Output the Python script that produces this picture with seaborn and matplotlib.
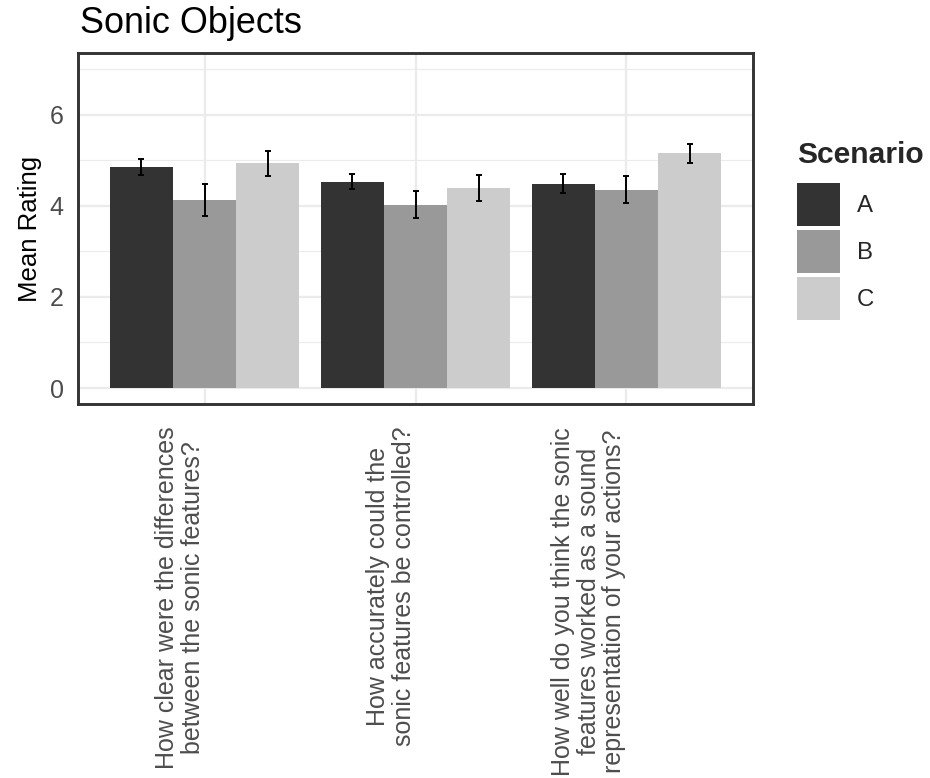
import matplotlib
matplotlib.use("Agg")
import matplotlib.pyplot as plt
import seaborn as sns
import pandas as pd
from matplotlib.ticker import MultipleLocator

# Survey questions (x categories)
questions = [
    "How clear were the differences\nbetween the sonic features?",
    "How accurately could the\nsonic features be controlled?",
    "How well do you think the sonic\nfeatures worked as a sound\nrepresentation of your actions?",
]
scenarios = ["A", "B", "C"]

# Mean ratings per scenario, one value per question
mean_a = [4.85, 4.53, 4.48]
mean_b = [4.12, 4.02, 4.35]
mean_c = [4.93, 4.39, 5.15]

# Standard errors per scenario, one value per question
se_a = [0.18, 0.17, 0.21]
se_b = [0.35, 0.30, 0.30]
se_c = [0.27, 0.28, 0.21]

colors = ["#333333", "#999999", "#CCCCCC"]

means = {"A": mean_a, "B": mean_b, "C": mean_c}
ses = {"A": se_a, "B": se_b, "C": se_c}
rows = []
for qi, q in enumerate(questions):
    for s in scenarios:
        rows.append({"Question": q, "Scenario": s,
                     "Rating": means[s][qi], "SE": ses[s][qi]})
df = pd.DataFrame(rows)

sns.set_style("white")
plt.rcParams["font.family"] = ["Liberation Sans", "DejaVu Sans"]

fig = plt.figure(figsize=(9.3, 7.78), dpi=100)
ax = fig.add_axes([78 / 930, 1 - 404 / 778, 675 / 930, 351 / 778])

sns.barplot(data=df, x="Question", y="Rating", hue="Scenario",
            order=questions, hue_order=scenarios, palette=colors,
            width=0.9, saturation=1, errorbar=None, linewidth=0,
            ax=ax, zorder=2)

# Error bars centred on each drawn bar (bars sorted left to right
# follow the question-major, scenario-minor row order of df)
bars = sorted([p for p in ax.patches if p.get_height() > 0],
              key=lambda p: p.get_x())
xs = [p.get_x() + p.get_width() / 2 for p in bars]
ax.errorbar(xs, df["Rating"], yerr=df["SE"], fmt="none", ecolor="black",
            elinewidth=1.4, capsize=2.5, capthick=1.4, zorder=3)

ax.set_xlim(-0.6, 2.6)
ax.set_ylim(-0.35, 7.35)
ax.yaxis.set_major_locator(MultipleLocator(2))
ax.yaxis.set_minor_locator(MultipleLocator(1))
ax.set_axisbelow(True)
ax.grid(which="major", color="#EBEBEB", linewidth=1.6)
ax.grid(which="minor", axis="y", color="#EBEBEB", linewidth=0.8)

for sp in ax.spines.values():
    sp.set_visible(True)
    sp.set_color("#333333")
    sp.set_linewidth(2.1)

ax.tick_params(axis="both", which="major", length=5.4, width=1.6,
               color="#333333", labelcolor="#4D4D4D", labelsize=18)
ax.tick_params(axis="y", which="major", pad=5)
ax.tick_params(axis="x", which="major", pad=11)
ax.tick_params(which="minor", length=0)

ax.set_xticks(range(len(questions)))
ax.set_xticklabels(questions, rotation=90, ha="right", va="top",
                   multialignment="center", linespacing=1.08)

ax.set_xlabel("")
ax.set_ylabel("Mean Rating", fontsize=18.5, color="black")
ax.yaxis.set_label_coords(-0.054, 0.5)

fig.text(80 / 930, 1 - 33 / 778, "Sonic Objects", fontsize=25.92,
         ha="left", va="baseline", color="black")

handles, labels = ax.get_legend_handles_labels()
leg = ax.legend(handles, labels, title="Scenario", loc="upper left",
                bbox_to_anchor=(797 / 930, 1 - 141 / 778),
                bbox_transform=fig.transFigure, frameon=False,
                fontsize=17.28,
                title_fontproperties={"weight": "bold", "size": 21.6},
                handlelength=1.79, handleheight=2.38, labelspacing=0.17,
                handletextpad=0.7, borderpad=0, borderaxespad=0,
                alignment="left")
# gap between the legend title and the first key
leg._legend_box.sep = 10.0

fig.savefig("out.png", dpi=100)
